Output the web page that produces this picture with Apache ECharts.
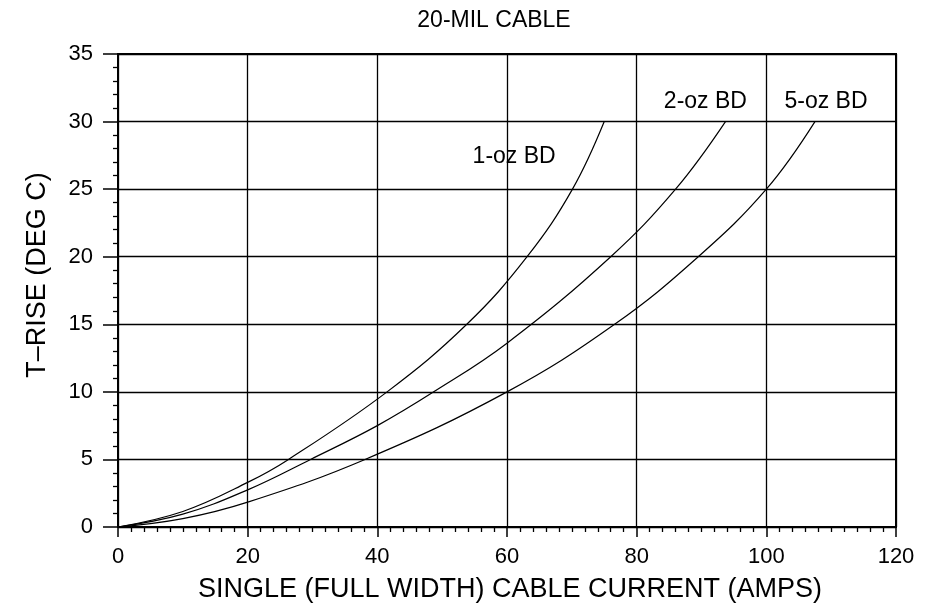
<!DOCTYPE html>
<html>
<head>
<meta charset="utf-8">
<script src="https://cdn.jsdelivr.net/npm/echarts@6/dist/echarts.min.js"></script>
<style>
html,body{margin:0;padding:0;background:#fff;}
#chart{width:925px;height:613px;}
</style>
</head>
<body>
<div id="chart"></div>
<script>
// ---- data ----
const chartTitle = '20-MIL CABLE';
const xAxisTitle = 'SINGLE (FULL WIDTH) CABLE CURRENT (AMPS)';
const yAxisTitle = 'T\u2013RISE (DEG C)';
const seriesNames = ['1-oz BD', '2-oz BD', '5-oz BD'];

const current1 = [0, 10, 20, 26.3, 41.5, 53.8, 63.1, 70.1, 75];
const trise1   = [0, 1.15, 3.3, 5, 10, 15, 20, 25, 30];

const current2 = [0, 10, 20, 29.7, 40, 48.7, 60, 76, 86, 93.7];
const trise2   = [0, 0.95, 2.75, 5, 7.5, 10, 13.6, 20, 25, 30];

const current5 = [0, 10, 20, 38.1, 60, 76.6, 89.5, 100, 107.5];
const trise5   = [0, 0.62, 1.84, 5, 10, 15, 20, 25, 30];

const xTicks = [0, 20, 40, 60, 80, 100, 120];
const yTicks = [0, 5, 10, 15, 20, 25, 30, 35];

function pairs(xs, ys) { return xs.map((x, i) => [x, ys[i]]); }

const FONT = '"Liberation Sans", Arial, Helvetica, sans-serif';
const chart = echarts.init(document.getElementById('chart'), null, {renderer: 'canvas'});

function curve(name, xs, ys, labelAt) {
  return {
    name: name,
    type: 'line',
    data: pairs(xs, ys),
    smooth: 0.4,
    showSymbol: false,
    symbol: 'none',
    lineStyle: {color: '#000', width: 1.2},
    z: 5,
    markPoint: {
      symbol: 'circle',
      symbolSize: 0,
      silent: true,
      label: {show: true, position: 'inside', formatter: name, color: '#000', fontSize: 23, fontFamily: FONT},
      data: [{coord: labelAt}]
    }
  };
}

const option = {
  animation: false,
  backgroundColor: '#fff',
  title: {
    text: chartTitle,
    left: 489, top: 4, textAlign: 'center',
    textStyle: {fontSize: 23, fontWeight: 'normal', color: '#000', fontFamily: FONT}
  },
  grid: {left: 118, right: 29, top: 54, bottom: 86, show: true, borderColor: '#000', borderWidth: 2, containLabel: false},
  xAxis: {
    type: 'value', min: xTicks[0], max: xTicks[xTicks.length - 1], interval: 20,
    axisLine: {show: true, onZero: false, lineStyle: {color: '#000', width: 2}},
    axisTick: {show: true, inside: false, length: 10, lineStyle: {color: '#000', width: 1.5}},
    minorTick: {show: true, splitNumber: 10, length: 5, lineStyle: {color: '#000', width: 1.3}},
    axisLabel: {color: '#000', fontSize: 22, fontFamily: FONT, margin: 19},
    splitLine: {show: true, lineStyle: {color: '#000', width: 1.3}}
  },
  yAxis: {
    type: 'value', min: yTicks[0], max: yTicks[yTicks.length - 1], interval: 5,
    axisLine: {show: true, onZero: false, lineStyle: {color: '#000', width: 2}},
    axisTick: {show: true, inside: false, length: 15, lineStyle: {color: '#000', width: 1.5}},
    minorTick: {show: true, splitNumber: 5, length: 5, lineStyle: {color: '#000', width: 1.3}},
    axisLabel: {color: '#000', fontSize: 22, fontFamily: FONT, margin: 25},
    splitLine: {show: true, lineStyle: {color: '#000', width: 1.3}}
  },
  graphic: [
    {type: 'text', x: 510, y: 590, style: {text: xAxisTitle, fill: '#000', font: '27px ' + FONT, textAlign: 'center', textVerticalAlign: 'middle'}},
    {type: 'text', rotation: Math.PI / 2, x: 38, y: 275, style: {text: yAxisTitle, fill: '#000', font: '27px ' + FONT, textAlign: 'center', textVerticalAlign: 'middle'}}
  ],
  series: [
    curve(seriesNames[0], current1, trise1, [61.1, 27.4]),
    curve(seriesNames[1], current2, trise2, [90.6, 31.46]),
    curve(seriesNames[2], current5, trise5, [109.2, 31.46])
  ]
};
chart.setOption(option);
</script>
</body>
</html>
